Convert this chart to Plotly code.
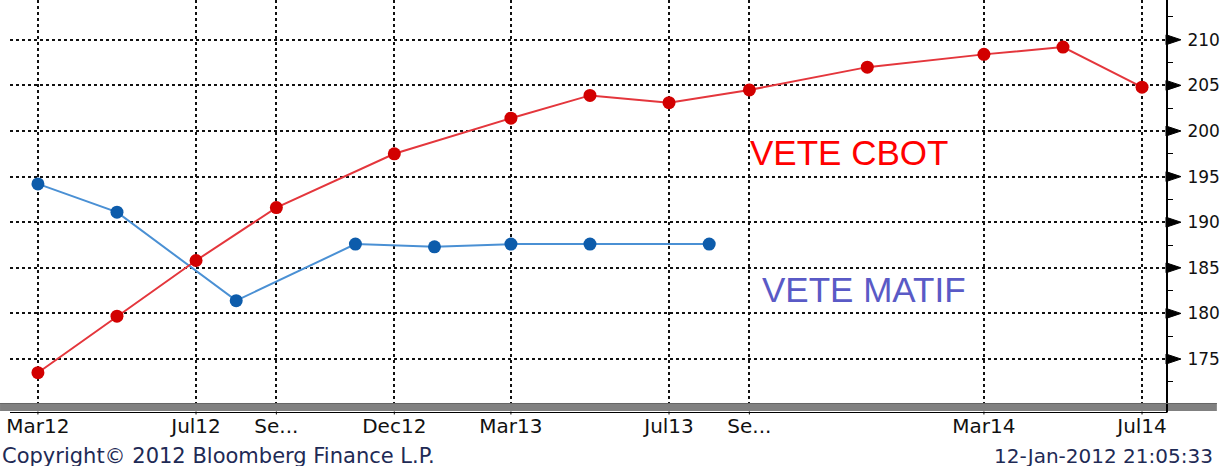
import plotly.graph_objects as go

# ---- data ----
cbot_dates = ["2012-03-01", "2012-05-01", "2012-07-01", "2012-09-01", "2012-12-01",
              "2013-03-01", "2013-05-01", "2013-07-01", "2013-09-01", "2013-12-01",
              "2014-03-01", "2014-05-01", "2014-07-01"]
cbot_values = [173.5, 179.7, 185.8, 191.6, 197.5, 201.4, 203.9, 203.1, 204.5, 207.0,
               208.4, 209.2, 204.8]

matif_dates = ["2012-03-01", "2012-05-01", "2012-08-01", "2012-11-01", "2013-01-01",
               "2013-03-01", "2013-05-01", "2013-08-01"]
matif_values = [194.2, 191.1, 181.4, 187.6, 187.3, 187.6, 187.6, 187.6]

tick_dates = ["2012-03-01", "2012-07-01", "2012-09-01", "2012-12-01", "2013-03-01",
              "2013-07-01", "2013-09-01", "2014-03-01", "2014-07-01"]
tick_labels = ["Mar12", "Jul12", "Se...", "Dec12", "Mar13", "Jul13", "Se...", "Mar14", "Jul14"]

y_ticks = [175, 180, 185, 190, 195, 200, 205, 210]

label_cbot = "VETE CBOT"
label_matif = "VETE MATIF"
copyright_text = "Copyright© 2012 Bloomberg Finance L.P."
stamp_text = "12-Jan-2012 21:05:33"

# ---- layout geometry ----
W, H = 1220, 466
ML, MR, MT, MB = 10, 51, 0, 62
PW = W - ML - MR
PH = H - MT - MB          # plot area: pixel rows 0..404
Y0, Y1 = 170.07, 214.36


def py(pix):
    """pixel row (from top) -> paper y"""
    return round((PH - pix) / PH, 5)


def px(pix):
    """pixel column (from left) -> paper x"""
    return round((pix - ML) / PW, 5)


def vy(v):
    """data value -> paper y"""
    return round((v - Y0) / (Y1 - Y0), 5)


fig = go.Figure()

fig.add_trace(go.Scatter(
    x=matif_dates, y=matif_values, mode="lines+markers",
    line=dict(color="#4a90d4", width=2),
    marker=dict(color="#0d5cab", size=13),
    showlegend=False, hoverinfo="skip"))

fig.add_trace(go.Scatter(
    x=cbot_dates, y=cbot_values, mode="lines+markers",
    line=dict(color="#e4363c", width=2),
    marker=dict(color="#d20000", size=13),
    showlegend=False, hoverinfo="skip"))

shapes = []
# grey band at the bottom of the plot
shapes.append(dict(type="rect", xref="paper", yref="paper",
                   x0=px(0), x1=px(W), y0=py(411), y1=py(403),
                   fillcolor="#808080", line=dict(width=0), layer="above"))
shapes.append(dict(type="line", xref="paper", yref="paper",
                   x0=px(0), x1=px(W), y0=py(403.5), y1=py(403.5),
                   line=dict(color="#666666", width=1), layer="above"))
# black baseline below the grey band
shapes.append(dict(type="line", xref="paper", yref="paper",
                   x0=px(ML), x1=px(1170), y0=py(412.5), y1=py(412.5),
                   line=dict(color="black", width=1), layer="above"))
# right axis line continues down to the baseline
shapes.append(dict(type="line", xref="paper", yref="paper",
                   x0=px(1170), x1=px(1170), y0=py(404), y1=py(412.5),
                   line=dict(color="black", width=2), layer="above"))
# small x ticks on the baseline
for d in tick_dates:
    shapes.append(dict(type="line", xref="x", yref="paper",
                       x0=d, x1=d, y0=py(411.5), y1=py(414.5),
                       line=dict(color="black", width=1), layer="above"))
# wedge-shaped major ticks on the value axis
half = round(5 / PH, 5)
for v in y_ticks:
    yc = vy(v)
    shapes.append(dict(type="path", xref="paper", yref="paper",
                       path=(f"M {px(1169)},{round(yc - half, 5)} "
                             f"L {px(1184)},{yc} "
                             f"L {px(1169)},{round(yc + half, 5)} Z"),
                       fillcolor="black", line=dict(color="black", width=1),
                       layer="above"))

annotations = [
    dict(text=label_cbot, xref="paper", yref="paper",
         x=px(750), y=py(152), xanchor="left", yanchor="middle",
         showarrow=False, font=dict(family="Liberation Sans", size=35, color="#ff0000")),
    dict(text=label_matif, xref="paper", yref="paper",
         x=px(762), y=py(290), xanchor="left", yanchor="middle",
         showarrow=False, font=dict(family="Liberation Sans", size=35, color="#5a5ac6")),
    dict(text=copyright_text, xref="paper", yref="paper",
         x=px(0), y=py(456), xanchor="left", yanchor="middle",
         showarrow=False, font=dict(family="DejaVu Sans", size=21, color="#1e2a55")),
    dict(text=stamp_text, xref="paper", yref="paper",
         x=px(1218), y=py(456), xanchor="right", yanchor="middle",
         showarrow=False, font=dict(family="DejaVu Sans", size=20, color="#1e2a55")),
]

fig.update_layout(
    width=W, height=H,
    margin=dict(l=ML, r=MR, t=MT, b=MB),
    paper_bgcolor="white", plot_bgcolor="white",
    shapes=shapes, annotations=annotations,
    showlegend=False,
    xaxis=dict(
        type="date", range=["2012-02-08 10:45", "2014-07-19 12:00"],
        tickmode="array", tickvals=tick_dates, ticktext=tick_labels,
        showgrid=True, gridcolor="#111111", gridwidth=2, griddash="3px,3px",
        showline=False,
        ticks="outside", ticklen=4, tickcolor="rgba(0,0,0,0)",
        tickfont=dict(family="DejaVu Sans", size=20, color="#111111"),
        zeroline=False, fixedrange=True),
    yaxis=dict(
        side="right", range=[Y0, Y1],
        tickmode="array", tickvals=y_ticks,
        showgrid=True, gridcolor="#111111", gridwidth=2, griddash="3px,3px",
        showline=True, linecolor="black", linewidth=2,
        ticks="outside", ticklen=6, tickwidth=1, tickcolor="black",
        ticklabelstandoff=10,
        minor=dict(dtick=2.5, tick0=0, ticks="outside", ticklen=5,
                   tickcolor="black", tickwidth=1, showgrid=False),
        tickfont=dict(family="DejaVu Sans", size=17, color="#111111"),
        zeroline=False, fixedrange=True),
)

fig.write_html("out.html", config={"displayModeBar": False},
               post_script="document.body.style.margin='0';document.body.style.overflow='hidden';")
